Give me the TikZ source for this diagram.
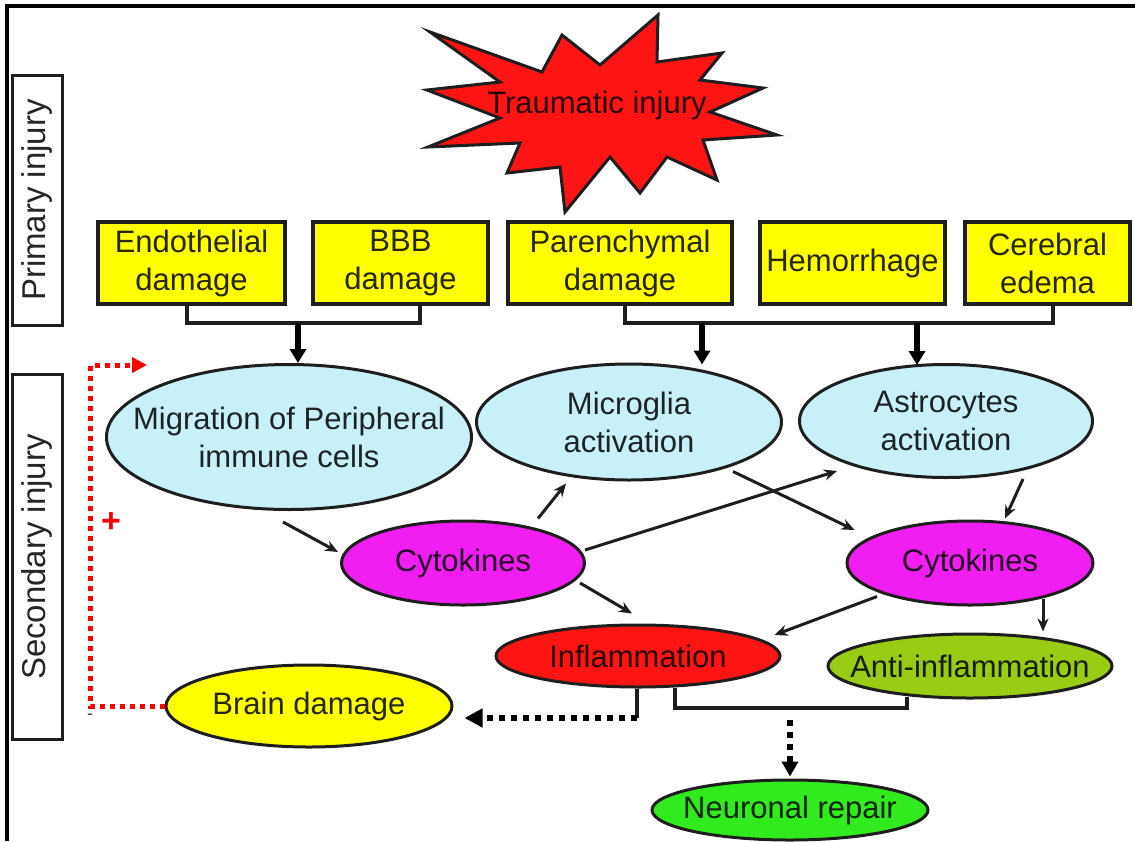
\documentclass[tikz,border=0pt]{standalone}
\usepackage{fontspec}
\setmainfont{Liberation Sans}
\usetikzlibrary{shapes.geometric,arrows.meta}
\definecolor{boxyellow}{RGB}{255,255,0}
\definecolor{cellcyan}{RGB}{200,240,248}
\definecolor{cytomag}{RGB}{240,30,240}
\definecolor{inflred}{RGB}{255,20,20}
\definecolor{antigreen}{RGB}{153,204,20}
\definecolor{repgreen}{RGB}{50,235,30}
\definecolor{edge}{RGB}{30,30,30}
\begin{document}
\begin{tikzpicture}[x=1pt,y=-1pt,
  every node/.style={font=\fontsize{31}{38}\selectfont, text=black, text opacity=0.85, align=center, inner sep=0pt},
  ybox/.style={draw=edge, line width=3.4pt, fill=boxyellow},
  labelbox/.style={draw=edge, line width=3pt, rotate=90, minimum height=50pt, font=\fontsize{33}{38}\selectfont},
  ell/.style={ellipse, draw=edge, line width=3pt, inner sep=-60pt},
  link/.style={draw=edge, line width=3.4pt},
  thickarr/.style={draw=black, line width=5.5pt, -{Triangle[length=14pt,width=16pt]}},
  thinarr/.style={draw=edge, line width=3pt, -{Stealth[length=13pt,width=11pt]}},
  blackdot/.style={draw=black, line width=6pt, dash pattern=on 6pt off 6pt, -{Triangle[length=18pt,width=18pt]}},
  reddot/.style={draw=red, line width=5pt, dash pattern=on 5pt off 5pt, -{Triangle[length=15pt,width=15pt]}},
  starshape/.style={draw=edge, line width=3pt, fill=inflred, line join=miter}
]
\useasboundingbox (0,0) rectangle (1135,841);
% frame
\draw[line width=3.4pt] (7,841) -- (7,6) -- (1135,6);

% side labels
\node[labelbox, minimum width=250pt] (prim) at (37,200) {Primary injury};
\node[labelbox, minimum width=365pt] (sec) at (37,557) {Secondary injury};

% star
\draw[starshape] (430,32) -- (542,72) -- (562,35) -- (600,65) -- (658,15) -- (657,62)
  -- (722,53) -- (700,80) -- (763,88) -- (710,112) -- (777,135) -- (703,140)
  -- (717,180) -- (667,157) -- (640,193) -- (610,157) -- (565,212) -- (560,167)
  -- (507,173) -- (520,143) -- (428,147) -- (500,118) -- (427,90) -- (500,82) -- cycle;
\node (trauma) at (597,105) {Traumatic injury};

% primary boxes
\node[ybox, minimum width=187pt, minimum height=82pt] (endo) at (191.5,263) {Endothelial\\damage};
\node[ybox, minimum width=175pt, minimum height=82pt] (bbb) at (400.5,263) {BBB\\damage};
\node[ybox, minimum width=224pt, minimum height=82pt] (par) at (620,263) {Parenchymal\\damage};
\node[ybox, minimum width=185pt, minimum height=82pt] (hem) at (852.5,263) {Hemorrhage};
\node[ybox, minimum width=165pt, minimum height=82pt] (cer) at (1047.5,263) {Cerebral\\edema};

% secondary nodes
\node[ell, fill=cellcyan, minimum width=365pt, minimum height=145pt] (mig) at (289,437) {Migration of Peripheral\\immune cells};
\node[ell, fill=cellcyan, minimum width=305pt, minimum height=116pt] (micro) at (629,422) {Microglia\\activation};
\node[ell, fill=cellcyan, minimum width=293pt, minimum height=113pt] (astro) at (946,421) {Astrocytes\\activation};
\node[ell, fill=cytomag, minimum width=243pt, minimum height=84pt] (cytL) at (463,563) {Cytokines};
\node[ell, fill=cytomag, minimum width=246pt, minimum height=84pt] (cytR) at (970,563) {Cytokines};
\node[ell, fill=inflred, minimum width=284pt, minimum height=62pt] (infl) at (638,656) {Inflammation};
\node[ell, fill=antigreen, minimum width=284pt, minimum height=64pt] (anti) at (970,666) {Anti-inflammation};
\node[ell, fill=boxyellow, minimum width=286pt, minimum height=82pt] (brain) at (309,706) {Brain damage};
\node[ell, fill=repgreen, minimum width=276pt, minimum height=60pt] (neur) at (790,810) {Neuronal repair};

% brackets from primary injuries
\coordinate (j1) at (298,323);
\coordinate (j2) at (702,323);
\coordinate (j3) at (917,323);
\draw[link] ([xshift=-4.5pt]endo.south) |- (j1) -| ([xshift=19.5pt]bbb.south);
\draw[link] ([xshift=5pt]par.south) |- (j2) -- (j3) -| ([xshift=5.5pt]cer.south);
\draw[thickarr] (j1) -- (j1 |- mig.north);
\draw[thickarr] (j2) -- ([yshift=-2pt]j2 |- micro.north);
\draw[thickarr] (j3) -- ([yshift=-2pt]j3 |- astro.north);

% thin arrows
\draw[thinarr] ([xshift=-6pt,yshift=-11pt]mig.south) -- ([xshift=-2pt,yshift=11pt]cytL.west);
\draw[thinarr] ([xshift=75pt,yshift=1pt]cytL.north) -- ([xshift=-63pt,yshift=-2pt]micro.south);
\draw[thinarr] ([xshift=-1pt,yshift=13pt]cytL.east) -- ([xshift=-109pt,yshift=8pt]astro.south);
\draw[thinarr] ([xshift=104pt,yshift=10pt]micro.south) -- ([xshift=9pt,yshift=33pt]cytR.west);
\draw[thinarr] ([xshift=77pt]astro.south) -- ([xshift=35pt,yshift=1pt]cytR.north);
\draw[thinarr] ([xshift=-6pt,yshift=-20pt]cytL.east) -- ([xshift=-6pt,yshift=10pt]infl.north);
\draw[thinarr] ([xshift=-93pt,yshift=10pt]cytR.south) -- ([xshift=-7pt,yshift=21pt]infl.east);
\draw[thinarr] ([xshift=73pt,yshift=8pt]cytR.south) -- ([xshift=73pt,yshift=1pt]anti.north);

% inflammation -> brain damage
\coordinate (ib) at (637,718);
\draw[link] ([xshift=-1pt]infl.south) -- (ib);
\draw[blackdot, shorten >=11pt] (ib) -- (ib -| brain.east);

% inflammation / anti-inflammation -> neuronal repair
\coordinate (jn) at (790,708);
\draw[link] ([xshift=37pt,yshift=1pt]infl.south) |- (jn) -| ([xshift=-63pt,yshift=3pt]anti.south);
\draw[blackdot, -{Triangle[length=15pt,width=16pt]}] ([yshift=-12pt]jn) -- ([yshift=2pt]neur.north);

% feedback loop
\coordinate (fbc) at (90,365);
\coordinate (fbend) at (147,365);
\draw[reddot] (brain.west) -| (fbc) -- (fbend);
\node[text=red, text opacity=1, font=\bfseries\fontsize{34}{34}\selectfont] (plus) at (111,523) {+};
\node[text=edge, font=\fontsize{18}{18}\selectfont] (minus) at (90,717) {-};
\end{tikzpicture}
\end{document}
